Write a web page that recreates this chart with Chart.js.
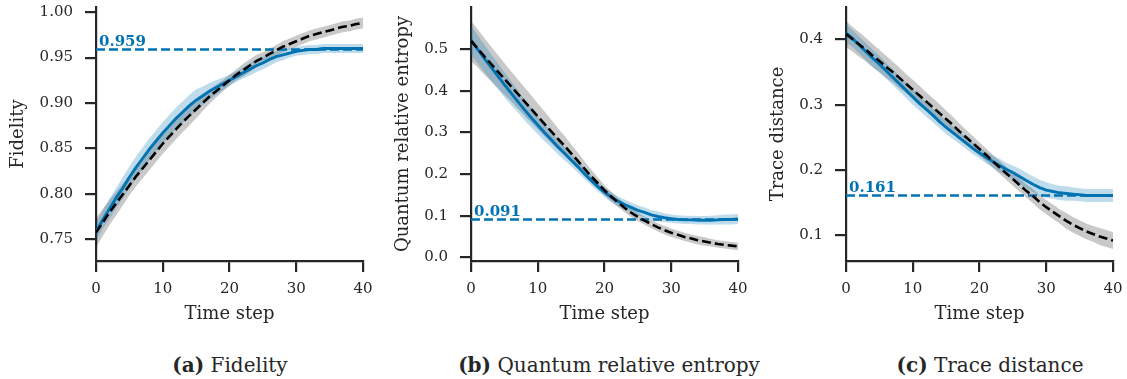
<!DOCTYPE html>
<html>
<head>
<meta charset="utf-8">
<script src="https://cdn.jsdelivr.net/npm/chart.js@4.4.0/dist/chart.umd.min.js"></script>
<style>
  body { margin: 0; background: #fff; width: 1127px; height: 379px; position: relative; overflow: hidden; }
  canvas { position: absolute; top: 0; }
  .cap { position: absolute; top: 365px; transform: translate(-50%, -50%); font: 20px "DejaVu Serif"; color: #262626; white-space: nowrap; }
</style>
</head>
<body>
<canvas id="fidelityChart" width="375" height="340" style="left:0px"></canvas>
<canvas id="entropyChart" width="375" height="340" style="left:375px"></canvas>
<canvas id="traceChart" width="375" height="340" style="left:750px"></canvas>
<div class="cap" style="left:230px"><b>(a)</b> Fidelity</div>
<div class="cap" style="left:609px"><b>(b)</b> Quantum relative entropy</div>
<div class="cap" style="left:990px"><b>(c)</b> Trace distance</div>
<script>
const steps = [0, 1, 2, 3, 4, 5, 6, 7, 8, 9, 10, 11, 12, 13, 14, 15, 16, 17, 18, 19, 20,
  21, 22, 23, 24, 25, 26, 27, 28, 29, 30, 31, 32, 33, 34, 35, 36, 37, 38, 39, 40];
const xTicks = [0, 10, 20, 30, 40];

// (a) fidelity
const fidelityLearned = [0.758, 0.771, 0.783, 0.795, 0.806, 0.818, 0.829, 0.839, 0.849, 0.858,
  0.867, 0.875, 0.883, 0.890, 0.897, 0.903, 0.908, 0.913, 0.917, 0.921, 0.925, 0.929, 0.933,
  0.937, 0.941, 0.944, 0.948, 0.951, 0.953, 0.955, 0.957, 0.958, 0.959, 0.959, 0.960, 0.960,
  0.960, 0.960, 0.960, 0.960, 0.960];
const fidelityLearnedSpread = [0.010, 0.010, 0.011, 0.011, 0.012, 0.012, 0.012, 0.012, 0.012,
  0.012, 0.012, 0.012, 0.012, 0.012, 0.012, 0.012, 0.010, 0.009, 0.008, 0.007, 0.006, 0.006,
  0.006, 0.007, 0.007, 0.007, 0.007, 0.006, 0.006, 0.005, 0.005, 0.005, 0.005, 0.005, 0.005,
  0.005, 0.005, 0.005, 0.005, 0.005, 0.005];
const fidelityExact = [0.757, 0.768, 0.779, 0.789, 0.799, 0.809, 0.819, 0.828, 0.837, 0.846,
  0.855, 0.863, 0.871, 0.879, 0.886, 0.893, 0.900, 0.907, 0.913, 0.919, 0.925, 0.931, 0.936,
  0.941, 0.946, 0.950, 0.954, 0.958, 0.962, 0.965, 0.968, 0.971, 0.974, 0.976, 0.978, 0.980,
  0.982, 0.984, 0.985, 0.987, 0.988];
const fidelityExactSpread = [0.016, 0.015, 0.014, 0.013, 0.012, 0.011, 0.011, 0.011, 0.011,
  0.011, 0.011, 0.011, 0.011, 0.011, 0.011, 0.010, 0.009, 0.008, 0.007, 0.006, 0.006, 0.006,
  0.007, 0.007, 0.007, 0.006, 0.006, 0.006, 0.006, 0.006, 0.006, 0.006, 0.006, 0.006, 0.006,
  0.006, 0.006, 0.006, 0.006, 0.006, 0.006];
const fidelityTarget = 0.959;
const fidelityTicks = [0.75, 0.80, 0.85, 0.90, 0.95, 1.00];

// (b) quantum relative entropy
const entropyLearned = [0.522, 0.500, 0.478, 0.457, 0.436, 0.415, 0.395, 0.375, 0.355, 0.336,
  0.318, 0.300, 0.283, 0.266, 0.250, 0.234, 0.218, 0.201, 0.185, 0.170, 0.156, 0.145, 0.135,
  0.127, 0.120, 0.113, 0.108, 0.102, 0.098, 0.095, 0.093, 0.091, 0.090, 0.090, 0.089, 0.089,
  0.089, 0.090, 0.091, 0.091, 0.092];
const entropyLearnedSpread = [0.035, 0.034, 0.033, 0.032, 0.031, 0.030, 0.029, 0.027, 0.025,
  0.024, 0.022, 0.021, 0.019, 0.018, 0.017, 0.015, 0.014, 0.013, 0.012, 0.011, 0.011, 0.012,
  0.012, 0.012, 0.012, 0.012, 0.012, 0.012, 0.012, 0.011, 0.010, 0.010, 0.010, 0.010, 0.010,
  0.010, 0.011, 0.011, 0.012, 0.012, 0.012];
const entropyExact = [0.520, 0.502, 0.483, 0.465, 0.447, 0.429, 0.411, 0.393, 0.375, 0.357,
  0.339, 0.321, 0.303, 0.285, 0.268, 0.250, 0.232, 0.213, 0.195, 0.178, 0.161, 0.146, 0.132,
  0.119, 0.107, 0.097, 0.088, 0.080, 0.072, 0.065, 0.059, 0.054, 0.049, 0.045, 0.041, 0.038,
  0.035, 0.032, 0.030, 0.028, 0.026];
const entropyExactSpread = [0.048, 0.046, 0.044, 0.042, 0.040, 0.038, 0.036, 0.035, 0.034,
  0.033, 0.031, 0.030, 0.028, 0.026, 0.024, 0.022, 0.020, 0.018, 0.016, 0.014, 0.012, 0.011,
  0.011, 0.011, 0.011, 0.010, 0.010, 0.010, 0.010, 0.010, 0.010, 0.010, 0.010, 0.010, 0.010,
  0.010, 0.009, 0.009, 0.009, 0.009, 0.009];
const entropyTarget = 0.091;
const entropyTicks = [0.0, 0.1, 0.2, 0.3, 0.4, 0.5];

// (c) trace distance
const traceLearned = [0.410, 0.401, 0.391, 0.381, 0.371, 0.362, 0.352, 0.342, 0.332, 0.322,
  0.312, 0.302, 0.293, 0.284, 0.274, 0.265, 0.257, 0.249, 0.241, 0.233, 0.226, 0.219, 0.213,
  0.207, 0.201, 0.196, 0.190, 0.184, 0.178, 0.173, 0.169, 0.167, 0.165, 0.164, 0.163, 0.162,
  0.161, 0.161, 0.161, 0.161, 0.161];
const traceLearnedSpread = [0.014, 0.013, 0.013, 0.013, 0.013, 0.013, 0.012, 0.012, 0.012,
  0.012, 0.012, 0.011, 0.011, 0.011, 0.010, 0.010, 0.010, 0.009, 0.009, 0.009, 0.008, 0.009,
  0.009, 0.010, 0.010, 0.011, 0.012, 0.012, 0.012, 0.012, 0.012, 0.011, 0.011, 0.011, 0.010,
  0.010, 0.010, 0.010, 0.010, 0.010, 0.010];
const traceExact = [0.408, 0.400, 0.392, 0.384, 0.375, 0.367, 0.358, 0.350, 0.341, 0.332,
  0.323, 0.314, 0.305, 0.296, 0.287, 0.278, 0.269, 0.259, 0.250, 0.241, 0.232, 0.223, 0.213,
  0.204, 0.195, 0.186, 0.177, 0.168, 0.160, 0.151, 0.143, 0.136, 0.129, 0.122, 0.116, 0.111,
  0.106, 0.102, 0.098, 0.095, 0.092];
const traceExactSpread = [0.020, 0.019, 0.019, 0.018, 0.018, 0.017, 0.017, 0.016, 0.016,
  0.015, 0.015, 0.015, 0.014, 0.014, 0.014, 0.013, 0.013, 0.012, 0.011, 0.011, 0.010, 0.010,
  0.010, 0.010, 0.010, 0.010, 0.010, 0.010, 0.011, 0.011, 0.011, 0.011, 0.011, 0.012, 0.012,
  0.012, 0.012, 0.012, 0.013, 0.013, 0.013];
const traceTarget = 0.161;
const traceTicks = [0.1, 0.2, 0.3, 0.4];

const blue = "#0173b2";
const axisColor = "#262626";
const serif = "DejaVu Serif";

// bold value written just above the dashed target line
const targetLabel = {
  id: "targetLabel",
  afterDatasetsDraw(chart, args, opts) {
    const { ctx, scales } = chart;
    const x = scales.x.getPixelForValue(steps[0]) + 3;
    const y = scales.y.getPixelForValue(opts.value) - 3;
    ctx.save();
    ctx.font = "bold 15px '" + serif + "'";
    ctx.fillStyle = blue;
    ctx.textBaseline = "alphabetic";
    ctx.fillText(opts.value.toFixed(3), x, y);
    ctx.restore();
  },
};

function band(values, spread, sign) {
  return values.map((v, i) => v + sign * spread[i]);
}

function createPanel(canvas, p) {
  const first = steps[0];
  const last = steps[steps.length - 1];
  new Chart(canvas, {
    type: "line",
    data: {
      labels: steps,
      datasets: [
        { data: p.exact, borderColor: "#000", borderWidth: 2.6, borderDash: [9, 4], pointRadius: 0, fill: false, order: 0 },
        { data: p.learned, borderColor: blue, borderWidth: 2.9, pointRadius: 0, fill: false, order: 1 },
        { data: [{ x: first, y: p.target }, { x: last, y: p.target }], borderColor: blue, borderWidth: 2.4, borderDash: [9, 4], pointRadius: 0, fill: false, order: 2 },
        { data: band(p.learned, p.learnedSpread, 1), borderWidth: 0, pointRadius: 0, backgroundColor: "rgba(1,115,178,0.25)", fill: "+1", order: 3 },
        { data: band(p.learned, p.learnedSpread, -1), borderWidth: 0, pointRadius: 0, fill: false, order: 4 },
        { data: band(p.exact, p.exactSpread, 1), borderWidth: 0, pointRadius: 0, backgroundColor: "rgba(0,0,0,0.21)", fill: "+1", order: 5 },
        { data: band(p.exact, p.exactSpread, -1), borderWidth: 0, pointRadius: 0, fill: false, order: 6 },
      ],
    },
    options: {
      responsive: false,
      animation: false,
      layout: { padding: { top: 7, left: 0, right: 12, bottom: 0 } },
      plugins: {
        legend: { display: false },
        tooltip: { enabled: false },
        targetLabel: { value: p.target },
      },
      scales: {
        x: {
          type: "linear",
          min: first,
          max: last,
          afterBuildTicks: (s) => { s.ticks = xTicks.map((v) => ({ value: v })); },
          afterFit: (s) => { s.height = 79; s.paddingLeft = 0; s.paddingRight = 0; },
          border: { display: true, color: axisColor, width: 2.2 },
          grid: { drawOnChartArea: false, tickLength: 11, color: axisColor, lineWidth: 2.2 },
          ticks: { font: { family: serif, size: 15 }, color: axisColor, padding: 8, maxRotation: 0 },
          title: { display: true, text: "Time step", font: { family: serif, size: 18 }, color: axisColor, padding: { top: 0, bottom: 15 } },
        },
        y: {
          min: p.min,
          max: p.max,
          afterBuildTicks: (s) => { s.ticks = p.ticks.map((v) => ({ value: v })); },
          afterFit: (s) => { s.width = 96; s.paddingTop = 0; s.paddingBottom = 0; },
          border: { display: true, color: axisColor, width: 2.2 },
          grid: { drawOnChartArea: false, tickLength: 11, color: axisColor, lineWidth: 2.2 },
          ticks: { font: { family: serif, size: 15 }, color: axisColor, padding: 12, callback: (v) => v.toFixed(p.digits) },
          title: { display: true, text: p.label, font: { family: serif, size: 18 }, color: axisColor, padding: { top: p.labelPad, bottom: 0 } },
        },
      },
    },
    plugins: [targetLabel],
  });
}

createPanel(document.getElementById("fidelityChart"), {
  learned: fidelityLearned, learnedSpread: fidelityLearnedSpread,
  exact: fidelityExact, exactSpread: fidelityExactSpread,
  target: fidelityTarget, ticks: fidelityTicks, digits: 2,
  min: 0.7257, max: 1.0058, label: "Fidelity", labelPad: 8,
});
createPanel(document.getElementById("entropyChart"), {
  learned: entropyLearned, learnedSpread: entropyLearnedSpread,
  exact: entropyExact, exactSpread: entropyExactSpread,
  target: entropyTarget, ticks: entropyTicks, digits: 1,
  min: -0.0089, max: 0.6017, label: "Quantum relative entropy", labelPad: 18,
});
createPanel(document.getElementById("traceChart"), {
  learned: traceLearned, learnedSpread: traceLearnedSpread,
  exact: traceExact, exactSpread: traceExactSpread,
  target: traceTarget, ticks: traceTicks, digits: 1,
  min: 0.0606, max: 0.4495, label: "Trace distance", labelPad: 18,
});
</script>
</body>
</html>
